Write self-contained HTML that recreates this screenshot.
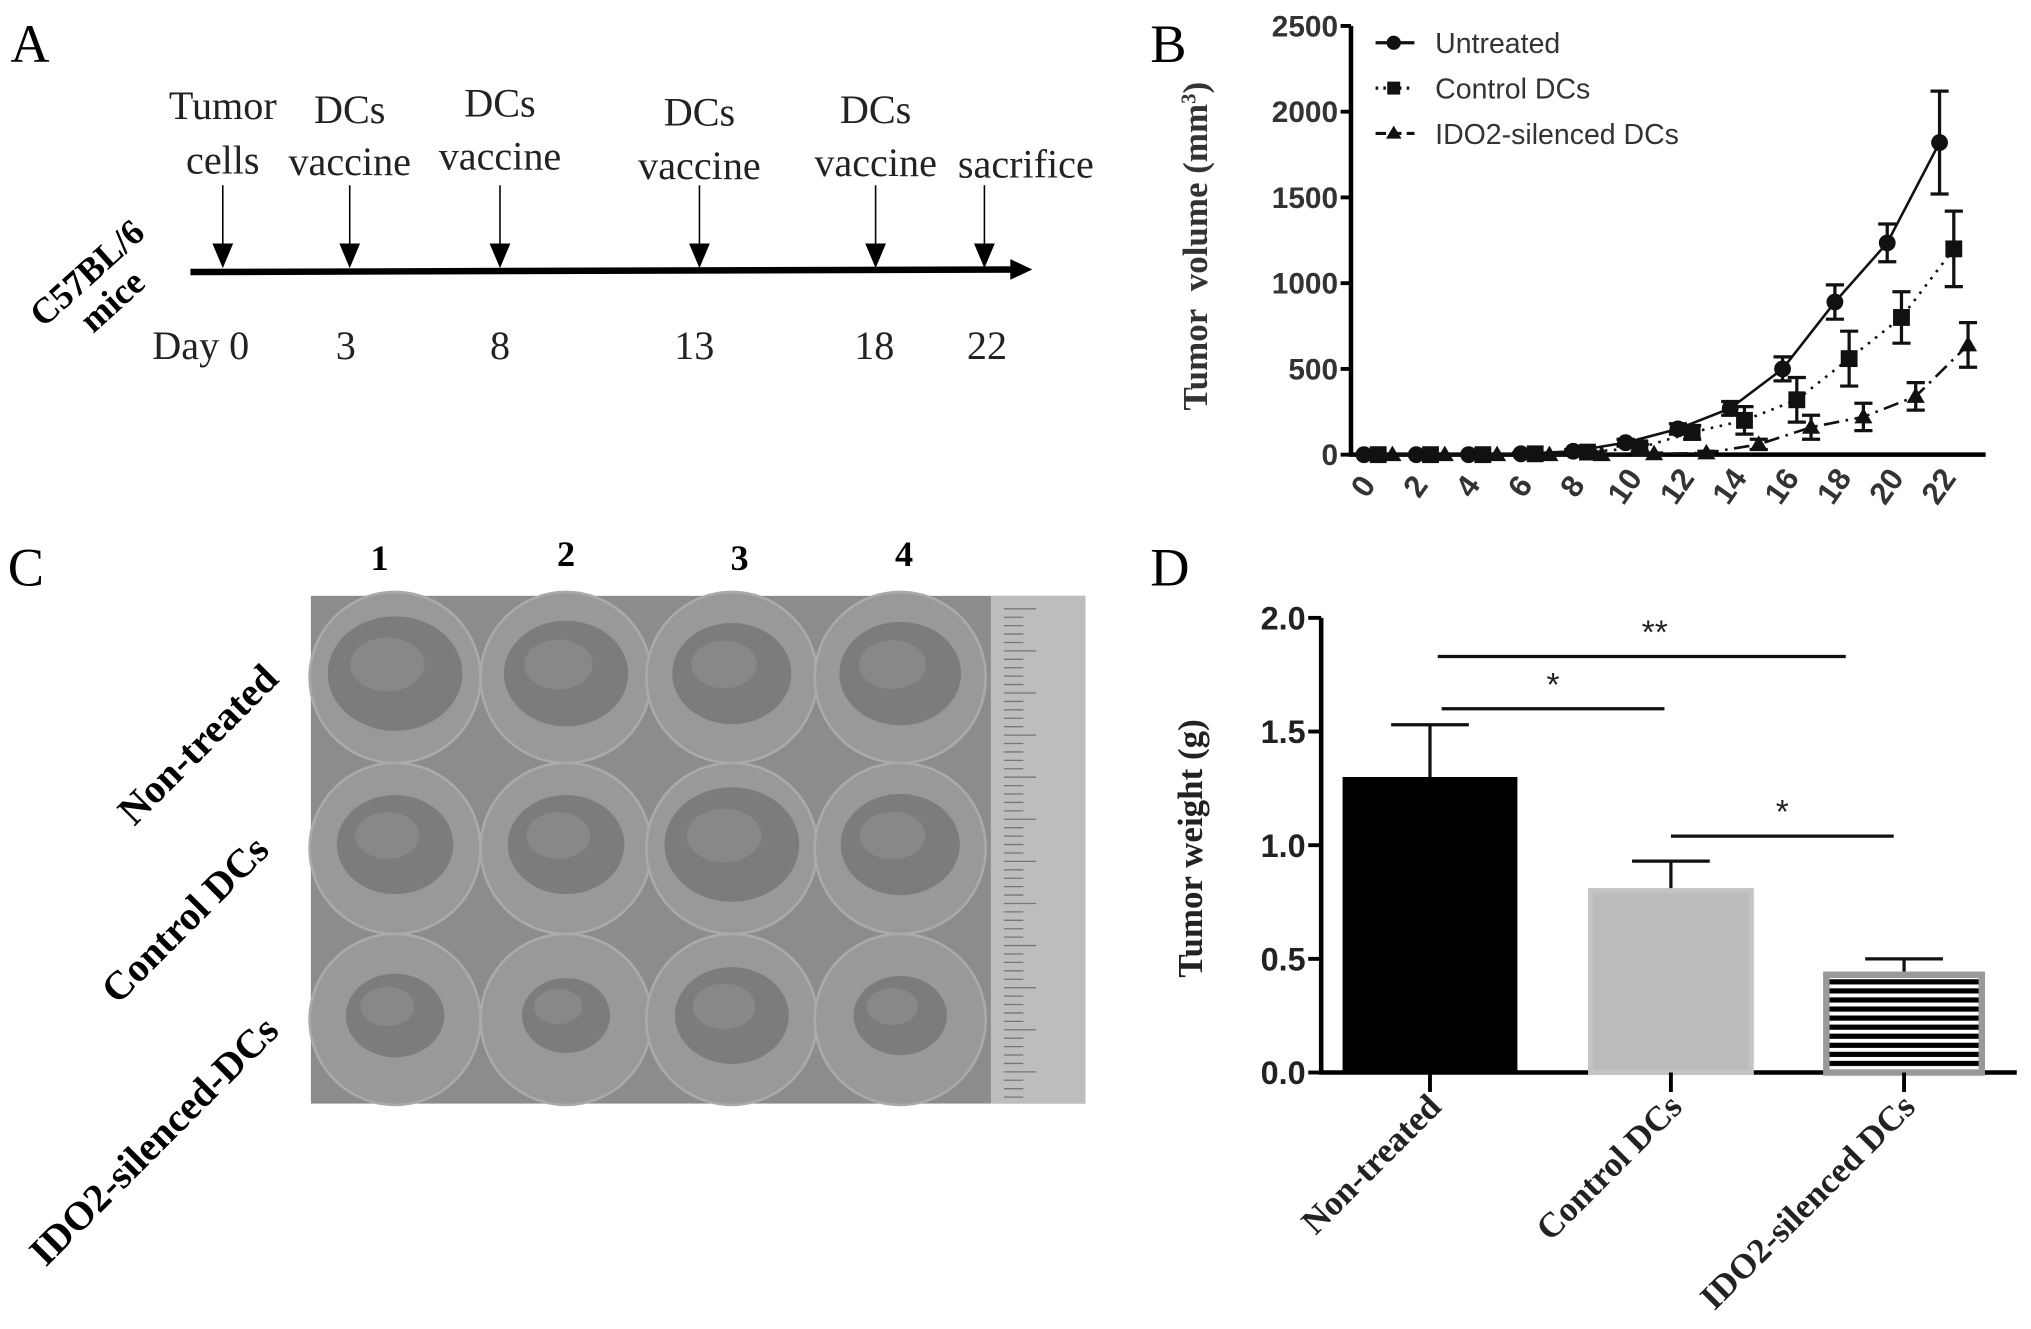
<!DOCTYPE html>
<html><head><meta charset="utf-8"><style>
html,body{margin:0;padding:0;background:#fff;width:2031px;height:1329px;overflow:hidden}
svg{display:block}
.serif{font-family:"Liberation Serif",serif}
.sans{font-family:"Liberation Sans",sans-serif}
</style></head><body>
<svg id="fig" width="2031" height="1329" viewBox="0 0 1568 1026" xmlns="http://www.w3.org/2000/svg">
<defs>
<pattern id="hstripe" width="10" height="7" patternUnits="userSpaceOnUse"><rect width="10" height="7" fill="#fff"/><rect width="10" height="4" fill="#000"/></pattern>
</defs>

<!-- Panel A -->
<g>
<text x="8" y="48" class="serif" font-size="42">A</text>
<line x1="147" y1="210" x2="790" y2="208" stroke="#000" stroke-width="5"/>
<path d="M780,200 L797,208 L780,216 z" fill="#000"/>
<g id="events" class="serif" font-size="31" fill="#222"></g>
<text x="80" y="225" class="serif" font-size="28" font-weight="bold" transform="rotate(-42 80 225)" text-anchor="middle"><tspan x="80" dy="-10">C57BL/6</tspan><tspan x="80" dy="29">mice</tspan></text>
</g>

<!-- Panel B -->
<g>
<text x="888" y="48" class="serif" font-size="42">B</text>
<g id="chartB"></g>
</g>

<!-- Panel C -->
<g>
<text x="6" y="452" class="serif" font-size="42">C</text>
<g class="serif" font-size="28" font-weight="bold" text-anchor="middle">
<text x="293" y="440">1</text>
<text x="437" y="437">2</text>
<text x="571" y="440">3</text>
<text x="698" y="437">4</text>
</g>
<g class="serif" font-size="31" font-weight="bold" text-anchor="middle">
<text x="160" y="582" transform="rotate(-45 160 582)">Non-treated</text>
<text x="150" y="717" transform="rotate(-45 150 717)">Control DCs</text>
<text x="126" y="888" transform="rotate(-45 126 888)">IDO2-silenced-DCs</text>
</g>
<rect x="240" y="460" width="598" height="392" fill="#8c8c8c"/>
<rect x="765" y="460" width="73" height="392" fill="#bdbdbd"/>
<g id="ruler" stroke="#777" stroke-width="1"></g>
<g id="wells"></g>
</g>

<!-- Panel D -->
<g>
<text x="888" y="452" class="serif" font-size="42">D</text>
<g id="chartD"></g>
</g>
</svg>
<script>
const NS="http://www.w3.org/2000/svg";
function mk(tag,attrs,parent,text){const e=document.createElementNS(NS,tag);for(const k in attrs)e.setAttribute(k,attrs[k]);if(text!==undefined)e.textContent=text;parent.appendChild(e);return e;}

// ---------- Panel A timeline ----------
const eventX=[172,270,386,540,676,760];
const eventLine1=["Tumor","DCs","DCs","DCs","DCs",""];
const eventLine2=["cells","vaccine","vaccine","vaccine","vaccine","sacrifice"];
const eventY1=[92,95,90,97,95,0];
const eventY2=[134,135,131,138,136,137];
const dayLabels=["Day 0","3","8","13","18","22"];
const dayLabelX=[155,267,386,536,675,762];
const ev=document.getElementById('events');
eventX.forEach((x,i)=>{
  const tx=i===5?792:x;
  if(eventLine1[i]){const t=mk('text',{x:tx,y:eventY1[i],'text-anchor':'middle'},ev,eventLine1[i]);
  
  }
  const t2=mk('text',{x:tx,y:eventY2[i],'text-anchor':'middle'},ev,eventLine2[i]);
  
  
  const l=mk('line',{x1:x,y1:143,x2:x,y2:190,stroke:'#000','stroke-width':1.2},ev);
  
  
  const p=mk('path',{d:`M${x-8},188 L${x+8},188 L${x},207 z`,fill:'#000'},ev);
  
  
  const d=mk('text',{x:dayLabelX[i],y:277,'text-anchor':'middle'},ev,dayLabels[i]);
  
  
});

// ---------- Panel B line chart ----------
const days=[0,2,4,6,8,10,12,14,16,18,20,22];
const yTicksB=[0,500,1000,1500,2000,2500];
const seriesNames=["Untreated","Control DCs","IDO2-silenced DCs"];
const untreated=[0,0,0,5,20,70,150,270,500,890,1235,1820];
const untreatedErr=[0,0,0,5,10,20,30,40,70,100,110,300];
const control=[0,0,0,5,15,40,130,200,320,560,800,1200];
const controlErr=[0,0,0,5,10,20,40,80,130,160,150,220];
const ido2=[0,0,0,0,0,5,10,60,160,220,340,640];
const ido2Err=[0,0,0,0,0,5,10,30,70,80,80,130];
(function(){
  const g=document.getElementById('chartB');
  const x0=1043,x1=1533,yTop=20,yBot=351;
  const xs=d=>1053+d*20.2;
  const ys=v=>yBot-(v/2500)*(yBot-yTop);
  const ax=mk('path',{d:`M${x0},${yTop} L${x0},${yBot} L${x1},${yBot}`,fill:'none',stroke:'#000','stroke-width':3.5},g);
  
  
  yTicksB.forEach(v=>{
    mk('line',{x1:x0-8,y1:ys(v),x2:x0,y2:ys(v),stroke:'#000','stroke-width':3},g);
    const t=mk('text',{x:x0-10,y:ys(v)+8,'text-anchor':'end','font-size':23,'font-weight':'bold',class:'sans',fill:'#333'},g,String(v));
    
    
  });
  days.forEach(d=>{
    const x=xs(d)+6;
    const t=mk('text',{x:x,y:380,'text-anchor':'middle','font-size':24,'font-weight':'bold',class:'sans',fill:'#333',transform:`rotate(-55 ${x} 380)`},g,String(d));
    
    
  });
  const yl=mk('text',{x:932,y:190,'text-anchor':'middle','font-size':27,'font-weight':'bold',class:'serif',fill:'#333',transform:'rotate(-90 932 190)'},g);
  yl.innerHTML='Tumor&#160; volume (mm<tspan dy="-9" font-size="16">3</tspan><tspan dy="9">)</tspan>';
  
  
  const all=[[untreated,untreatedErr,0,'none','circle'],[control,controlErr,11,'2,5','square'],[ido2,ido2Err,22,'12,5,2,5','tri']];
  all.forEach((s,si)=>{
    const [vals,errs,off,dash,shape]=s;
    const pts=vals.map((v,i)=>[xs(days[i])+off,ys(v)]);
    const ln=mk('path',{d:'M'+pts.map(p=>p.join(',')).join(' L'),fill:'none',stroke:'#111','stroke-width':2,'stroke-dasharray':dash},g);
    
    
    vals.forEach((v,i)=>{
      const [x,y]=pts[i];
      if(errs[i]>0){const e=mk('path',{d:`M${x},${ys(v+errs[i])} L${x},${ys(v-errs[i])} M${x-7},${ys(v+errs[i])} L${x+7},${ys(v+errs[i])} M${x-7},${ys(v-errs[i])} L${x+7},${ys(v-errs[i])}`,stroke:'#111','stroke-width':2.5,fill:'none'},g);
      
      }
      let m;
      if(shape==='circle')m=mk('circle',{cx:x,cy:y,r:6.5,fill:'#111'},g);
      else if(shape==='square')m=mk('rect',{x:x-6.5,y:y-6.5,width:13,height:13,fill:'#111'},g);
      else m=mk('path',{d:`M${x},${y-7} L${x+7},${y+5} L${x-7},${y+5} z`,fill:'#111'},g);
      
      
    });
    const ly=33+si*35;
    const ll=mk('line',{x1:1062,y1:ly,x2:1092,y2:ly,stroke:'#111','stroke-width':2.5,'stroke-dasharray':dash==='none'?'none':(si===1?'2,4':'8,4')},g);
    
    
    const lx=1076;let lm;
    if(shape==='circle')lm=mk('circle',{cx:lx,cy:ly,r:5.5,fill:'#111'},g);
    else if(shape==='square')lm=mk('rect',{x:lx-5,y:ly-5,width:10,height:10,fill:'#111'},g);
    else lm=mk('path',{d:`M${lx},${ly-6} L${lx+6},${ly+4} L${lx-6},${ly+4} z`,fill:'#111'},g);
    
    
    const lt=mk('text',{x:1108,y:ly+8,'font-size':22,class:'sans',fill:'#333'},g,seriesNames[si]);
    
    
  });
})();

// ---------- Panel C photo ----------
(function(){
  const r=document.getElementById('ruler');
  for(let y=470;y<850;y+=6.5){mk('line',{x1:775,y1:y,x2:(Math.round((y-470)/6.5)%5===0?800:790),y2:y},r);}
  const w=document.getElementById('wells');
  const cx=[305,437,565,695],cy=[523,655,787];
  const tr=[[52,48,46,47],[45,45,52,46],[38,34,44,36]];
  cy.forEach((y,ri)=>cx.forEach((x,ci)=>{
    const c=mk('circle',{cx:x,cy:y,r:66,fill:'#999',stroke:'#aaa','stroke-width':2},w);
    
    
    const t=mk('ellipse',{cx:x,cy:y-3,rx:tr[ri][ci],ry:tr[ri][ci]*0.85,fill:'#7c7c7c'},w);
    
    
    mk('ellipse',{cx:x-6,cy:y-10,rx:tr[ri][ci]*0.55,ry:tr[ri][ci]*0.4,fill:'#888'},w);
  }));
})();

// ---------- Panel D bar chart ----------
const groups=["Non-treated","Control DCs","IDO2-silenced DCs"];
const weights=[1.30,0.80,0.43];
const weightErr=[0.23,0.13,0.07];
const yTicksD=[0,0.5,1.0,1.5,2.0];
const sigLabels=["**","*","*"];
const sigLevels=[1.83,1.60,1.04];
(function(){
  const g=document.getElementById('chartD');
  const x0=1020,x1=1557,yTop=477,yBot=828;
  const ys=v=>yBot-(v/2)*(yBot-yTop);
  const centers=[1104,1290,1470];
  const bw=[135,124,120];
  const fills=['#000','#bbb','url(#hstripe)'];
  const ax=mk('path',{d:`M${x0},${yTop} L${x0},${yBot} L${x1},${yBot}`,fill:'none',stroke:'#000','stroke-width':3.5},g);
  
  
  yTicksD.forEach(v=>{
    mk('line',{x1:x0-10,y1:ys(v),x2:x0,y2:ys(v),stroke:'#000','stroke-width':3},g);
    const t=mk('text',{x:x0-12,y:ys(v)+9,'text-anchor':'end','font-size':25,'font-weight':'bold',class:'sans',fill:'#222'},g,v.toFixed(1));
    
    
  });
  const yl=mk('text',{x:928,y:655,'text-anchor':'middle','font-size':27,'font-weight':'bold',class:'serif',fill:'#222',transform:'rotate(-90 928 655)'},g,'Tumor weight (g)');
  
  
  weights.forEach((v,i)=>{
    const c=centers[i];
    const e=mk('path',{d:`M${c},${ys(v)} L${c},${ys(v+weightErr[i])} M${c-30},${ys(v+weightErr[i])} L${c+30},${ys(v+weightErr[i])}`,stroke:'#111','stroke-width':2.5,fill:'none'},g);
    
    
    const b=mk('rect',{x:c-bw[i]/2,y:ys(v),width:bw[i],height:yBot-ys(v),fill:fills[i],stroke:i===2?'#999':(i===1?'#c4c4c4':'none'),'stroke-width':i===2?5:(i===1?4:0)},g);
    
    
    mk('line',{x1:c,y1:yBot,x2:c,y2:yBot+15,stroke:'#000','stroke-width':3},g);
    const tx=c+10,ty=yBot+28;
    const t=mk('text',{x:tx,y:ty,'text-anchor':'end','font-size':27,'font-weight':'bold',class:'serif',fill:'#222',transform:`rotate(-45 ${tx} ${ty})`},g,groups[i]);
    
    
  });
  const sigX0=[1110,1113,1290],sigX1=[1425,1285,1462];
  sigLabels.forEach((s,i)=>{
    const y=ys(sigLevels[i]);
    const l=mk('line',{x1:sigX0[i],y1:y,x2:sigX1[i],y2:y,stroke:'#111','stroke-width':2.5},g);
    
    
    const t=mk('text',{x:(sigX0[i]+sigX1[i])/2-(i===0?-10:0),y:y-10,'text-anchor':'middle','font-size':26,class:'sans',fill:'#222'},g,s);
    
    
  });
})();
</script>
</body></html>
